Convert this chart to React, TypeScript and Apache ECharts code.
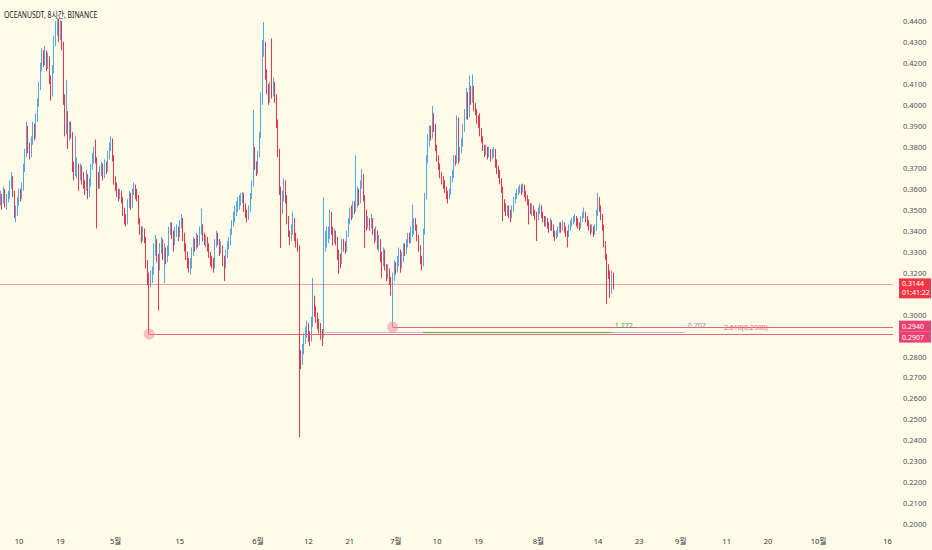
import React, { useEffect, useRef } from "react";
import * as echarts from "echarts";

// ---- time axis: days counted from Apr 10 (00:00); 8-hour candles ----
const FIRST_CANDLE_DAY = -4; // Apr 6 00:00
const CANDLES_PER_DAY = 3;
const FIRST_OPEN = 3550; // price in 1e-4 units

// candles as [close, high, low] in 1e-4 USDT (open = previous close)
const APR = [
  [3560,3590,3520],[3540,3575,3500],[3585,3610,3530],[3530,3600,3510],[3555,3575,3500],
  [3560,3590,3535],[3610,3640,3550],[3650,3680,3600],[3580,3660,3560],[3480,3590,3460],
  [3490,3520,3440],[3540,3560,3470],[3575,3600,3520],[3560,3600,3540],[3600,3630,3550],
  [3700,3720,3590],[3760,3790,3680],[3880,3920,3750],[3790,3900,3770],[3770,3820,3740],
  [3825,3850,3750],[3890,3920,3810],[3850,3910,3830],[3930,3960,3840],[4000,4030,3920],
  [4080,4110,3990],[4180,4200,4070],[4230,4270,4160],[4210,4260,4180],[4245,4280,4190],
  [4190,4260,4160],[4220,4250,4170],[4120,4230,4100],[4050,4140,4020],[4160,4190,4040],
  [4300,4330,4150],[4360,4400,4280],[4400,4412,4330],[4330,4410,4300],[4380,4405,4310],
  [4290,4400,4260],[4030,4300,4000],[3880,4050,3850],[3950,4120,3860],[3850,3970,3790],
  [3890,3920,3830],[3860,3920,3840],[3700,3870,3680],[3670,3730,3640],[3690,3850,3660],
  [3700,3750,3650],[3660,3720,3590],[3690,3720,3640],[3650,3710,3620],[3620,3680,3600],
  [3600,3640,3570],[3660,3690,3590],[3580,3670,3550],[3620,3650,3560],[3700,3720,3610],
  [3730,3770,3690],[3770,3800,3720],[3740,3835,3720],[3640,3750,3410],[3620,3680,3600],
  [3680,3710,3600],[3700,3730,3660],[3660,3720,3640],[3710,3740,3650],[3690,3730,3670],
  [3750,3780,3680],[3800,3820,3740],[3830,3850,3780],[3750,3840,3730],[3640,3760,3620],
];
const MAY = [
  [3610,3660,3590],[3580,3630,3560],[3560,3600,3540],[3575,3600,3550],[3550,3590,3530],
  [3490,3560,3470],[3470,3510,3430],[3440,3480,3420],[3530,3550,3430],[3560,3590,3510],
  [3520,3580,3500],[3580,3600,3510],[3600,3630,3570],[3570,3620,3550],[3560,3600,3540],
  [3450,3570,3430],[3400,3460,3380],[3370,3420,3340],[3390,3420,3350],[3360,3410,3340],
  [3250,3370,3220],[3160,3260,3140],[3150,3200,2907],[3170,3210,3130],[3200,3230,3150],
  [3300,3340,3190],[3350,3380,3280],[3280,3360,3250],[3230,3290,3020],[3310,3340,3210],
  [3350,3370,3290],[3290,3360,3260],[3310,3340,3150],[3270,3320,3240],[3300,3330,3250],
  [3400,3420,3280],[3420,3440,3380],[3380,3440,3360],[3350,3400,3300],[3390,3420,3330],
  [3400,3430,3370],[3380,3420,3350],[3430,3450,3370],[3450,3480,3410],[3380,3460,3350],
  [3320,3390,3300],[3290,3340,3260],[3250,3300,3220],[3230,3270,3200],[3240,3270,3190],
  [3300,3320,3220],[3340,3370,3280],[3320,3360,3300],[3360,3390,3310],[3340,3380,3320],
  [3390,3420,3330],[3420,3505,3380],[3370,3430,3350],[3350,3390,3330],[3360,3380,3320],
  [3320,3370,3300],[3290,3340,3270],[3260,3300,3230],[3250,3280,3220],[3230,3270,3200],
  [3340,3360,3220],[3370,3400,3320],[3350,3390,3330],[3300,3360,3280],[3320,3350,3290],
  [3260,3330,3230],[3240,3280,3160],[3280,3310,3220],[3320,3350,3270],[3340,3370,3310],
  [3390,3410,3330],[3430,3450,3380],[3460,3490,3420],[3490,3520,3440],[3510,3540,3470],
  [3520,3560,3490],[3540,3570,3500],[3550,3580,3520],[3570,3585,3530],[3510,3580,3490],
  [3480,3530,3460],[3460,3500,3440],[3500,3520,3450],[3560,3580,3490],[3620,3640,3550],
  [3780,3977,3610],[3710,3800,3690],[3680,3730,3660],
];
const JUN = [
  [3760,3780,3670],[3850,3870,3750],[4010,4060,3840],[4270,4310,4000],[4290,4395,4230],
  [4150,4300,4120],[4080,4170,4050],[4030,4100,4000],[4080,4110,4010],[4050,4317,4030],
  [4100,4130,4040],[4040,4110,4010],[3920,4050,3890],[3780,3930,3750],[3600,3790,3570],
  [3500,3610,3317],[3560,3590,3480],[3620,3650,3540],[3560,3640,3530],[3460,3570,3430],
  [3390,3470,3370],[3370,3400,3330],[3400,3430,3350],[3450,3490,3380],[3370,3460,3350],
  [3350,3390,3320],[3320,3360,3300],[2790,3330,2415],[2780,2830,2740],[2830,2860,2760],
  [2880,2910,2810],[2910,2940,2860],[2940,2970,2890],[2900,2960,2870],[2880,2920,2850],
  [2960,2990,2870],[3050,3175,2940],[3020,3090,2990],[2990,3040,2960],[2960,3010,2930],
  [2950,2980,2910],[2910,2960,2880],[2900,2930,2850],[3320,3560,2890],[3350,3400,3300],
  [3360,3420,3320],[3380,3420,3340],[3480,3500,3360],[3400,3490,3380],[3350,3420,3330],
  [3380,3410,3340],[3360,3400,3330],[3290,3370,3260],[3260,3310,3194],[3250,3290,3220],
  [3340,3360,3240],[3320,3360,3300],[3310,3350,3290],[3380,3400,3300],[3440,3460,3370],
  [3490,3510,3430],[3470,3520,3450],[3520,3540,3460],[3500,3540,3480],[3530,3760,3490],
  [3580,3610,3510],[3540,3600,3520],[3620,3640,3530],[3660,3695,3600],[3560,3670,3540],
  [3490,3570,3317],[3430,3500,3400],[3440,3470,3410],[3420,3460,3400],[3450,3480,3410],
  [3400,3460,3380],[3360,3410,3340],[3390,3420,3350],[3330,3400,3310],[3350,3380,3300],
  [3280,3360,3250],[3250,3300,3175],[3300,3320,3230],[3230,3310,3210],[3190,3240,3160],
  [3210,3240,3170],[3170,3220,3140],[3130,3180,3090],[3180,3200,2940],[3230,3260,3160],
];
const JUL = [
  [3210,3250,3190],[3250,3280,3200],[3300,3320,3230],[3240,3310,3200],[3270,3300,3220],
  [3320,3340,3250],[3300,3340,3280],[3340,3360,3290],[3370,3390,3320],[3360,3390,3340],
  [3390,3420,3340],[3400,3524,3370],[3440,3460,3380],[3420,3460,3400],[3370,3430,3350],
  [3320,3380,3300],[3260,3330,3240],[3240,3280,3210],[3390,3410,3230],[3560,3580,3380],
  [3740,3760,3550],[3820,3860,3720],[3880,3902,3800],[3860,3900,3830],[3950,3995,3840],
  [3900,3960,3870],[3800,3910,3780],[3750,3810,3730],[3710,3760,3690],[3670,3720,3650],
  [3640,3680,3620],[3620,3660,3600],[3600,3640,3580],[3570,3610,3550],[3560,3590,3530],
  [3580,3600,3550],[3640,3660,3570],[3660,3690,3630],[3740,3760,3650],[3730,3760,3710],
  [3930,3950,3720],[3740,3940,3720],[3780,3800,3730],[3810,3840,3770],[3890,3910,3800],
  [3950,3980,3870],[4050,4080,3930],[3950,4060,3930],[4070,4140,3940],[4020,4090,4000],
  [4080,4145,4010],[3990,4090,3970],[3970,4010,3950],[3930,3980,3910],[3910,3950,3890],
  [3870,3960,3850],[3840,3890,3820],[3800,3850,3780],[3770,3810,3750],[3790,3810,3760],
  [3760,3800,3740],[3780,3800,3750],[3750,3790,3730],[3770,3790,3740],[3780,3800,3750],
  [3720,3790,3700],[3690,3740,3670],[3670,3710,3650],[3640,3690,3620],[3600,3650,3580],
  [3530,3610,3444],[3510,3550,3490],[3490,3530,3470],[3500,3520,3470],[3480,3520,3460],
  [3470,3500,3440],[3500,3520,3460],[3540,3560,3490],[3560,3580,3530],[3580,3600,3550],
  [3590,3610,3570],[3600,3620,3580],[3590,3620,3570],[3610,3625,3580],[3580,3620,3560],
  [3560,3590,3540],[3540,3570,3520],[3520,3550,3430],[3500,3530,3480],[3510,3530,3470],
  [3490,3520,3470],[3470,3500,3450],[3460,3490,3350],
];
const AUG = [
  [3490,3510,3450],[3510,3530,3480],[3480,3520,3460],[3460,3490,3440],[3440,3470,3420],
  [3450,3470,3420],[3430,3460,3410],[3410,3440,3390],[3440,3460,3400],[3420,3450,3400],
  [3390,3430,3370],[3370,3400,3350],[3380,3400,3360],[3400,3420,3370],[3420,3440,3390],
  [3410,3440,3390],[3430,3450,3400],[3410,3440,3390],[3390,3420,3370],[3380,3400,3320],
  [3410,3430,3370],[3430,3450,3400],[3440,3460,3420],[3450,3470,3430],[3460,3480,3440],
  [3440,3470,3420],[3430,3460,3410],[3420,3440,3400],[3450,3470,3410],[3470,3490,3440],
  [3480,3510,3460],[3460,3490,3440],[3440,3470,3420],[3420,3450,3400],[3400,3430,3380],
  [3410,3430,3390],[3400,3420,3370],[3410,3430,3380],[3480,3500,3400],[3550,3580,3470],
  [3510,3560,3490],[3470,3520,3450],[3420,3480,3400],[3340,3430,3320],[3280,3350,3260],
  [3220,3290,3050],[3200,3240,3170],[3170,3210,3080],[3190,3210,3100],[3144,3200,3120],
];

// x-axis tick labels (day offset from Apr 10)
const TICK_DAYS = [0, 9, 21, 35, 52, 63, 72, 82, 91, 100, 113, 126, 135, 144, 154, 163, 174, 189];
const TICK_LABELS = ["10", "19", "5월", "15", "6월", "12", "21", "7월", "10", "19", "8월", "14", "23", "9월", "11", "20", "10월", "16"];

// annotation levels (price, day offsets)
const LAST_PRICE = 0.3144;
const COUNTDOWN = "01:41:22";
const LOW_A = { day: 28.33, price: 0.2907 };
const LOW_B = { day: 81.33, price: 0.294 };
const FIB_0707 = { from: 66.6, to: 144.9, price: 0.2914 };
const FIB_1272 = { from: 87.9, to: 129.1, price: 0.2914 };
const FIB_LABELS = [
  { text: "1.272", day: 131.6, price: 0.2947, color: "#43a047" },
  { text: "0.707", day: 147.5, price: 0.2949, color: "#9a86ad" },
  { text: "2.618(0.2908)", day: 158.2, price: 0.2939, color: "#e5677f" },
];

const X_MIN = -4.135;
const X_MAX = 190.2;
const TITLE = "OCEANUSDT, 8시간, BINANCE";

const BG = "#fefbe8";
const UP = "#58a6e6";
const DOWN = "#e6384c";
const FONT = "'Noto Sans', 'Noto Sans CJK KR', sans-serif";

function buildCandles() {
  const rows = [...APR, ...MAY, ...JUN, ...JUL, ...AUG];
  let prev = FIRST_OPEN;
  return rows.map((r, k) => {
    const open = prev;
    prev = r[0];
    return [FIRST_CANDLE_DAY + k / CANDLES_PER_DAY, open / 1e4, r[0] / 1e4, r[2] / 1e4, r[1] / 1e4];
  });
}

function priceBox(price: number, text: string, color: string, dy: number) {
  return {
    coord: [X_MAX, price],
    symbol: "circle",
    symbolSize: 0,
    itemStyle: { color: "transparent" },
    label: {
      show: true,
      position: "right",
      distance: 6,
      offset: [0, dy],
      formatter: text,
      backgroundColor: color,
      color: "#ffffff",
      fontSize: 7,
      lineHeight: 9,
      fontFamily: FONT,
      padding: [1, 3, 1, 3],
      width: 26,
      align: "left",
    },
  };
}

export default function App() {
  const ref = useRef<HTMLDivElement>(null);
  useEffect(() => {
    const chart = echarts.init(ref.current!, null, { renderer: "svg" });
    const lineColor = "#e8637c";
    chart.setOption({
      animation: false,
      backgroundColor: BG,
      graphic: [
        {
          type: "text",
          x: 4,
          y: 10,
          scaleX: 0.76,
          silent: true,
          style: {
            text: TITLE,
            fontSize: 9,
            fill: "#131722",
            fontFamily: FONT,
            textVerticalAlign: "top",
          },
        },
      ],
      grid: { left: 0, right: 39, top: -4.13, bottom: 4.75, containLabel: false },
      xAxis: {
        type: "value",
        min: X_MIN,
        max: X_MAX,
        axisLine: { show: false },
        axisTick: { show: false },
        splitLine: { show: false },
        axisLabel: {
          customValues: TICK_DAYS,
          inside: true,
          margin: 0.5,
          fontSize: 7.5,
          color: "#333333",
          fontFamily: FONT,
          formatter: (v: number) => {
            const i = TICK_DAYS.indexOf(Math.round(v));
            return i >= 0 ? TICK_LABELS[i] : "";
          },
        },
      },
      yAxis: {
        type: "value",
        position: "right",
        min: 0.19,
        max: 0.45,
        interval: 0.01,
        axisLine: { show: false },
        axisTick: { show: false },
        splitLine: { show: false },
        axisLabel: {
          margin: 10,
          fontSize: 7.5,
          color: "#50535e",
          fontFamily: FONT,
          formatter: (v: number) => {
            const c = Math.round(v * 100);
            if (c === 19 || c === 45 || c === 31 || c === 29) return "";
            return (c / 100).toFixed(4);
          },
        },
      },
      series: [
        {
          type: "candlestick",
          data: buildCandles(),
          encode: { x: 0, y: [1, 2, 3, 4] },
          barWidth: 1,
          itemStyle: {
            color: UP,
            color0: DOWN,
            borderColor: UP,
            borderColor0: DOWN,
            borderWidth: 1,
          },
          markLine: {
            silent: true,
            symbol: "none",
            label: { show: false },
            data: [
              [
                { coord: [X_MIN, LAST_PRICE], lineStyle: { color: "rgba(242,54,69,0.45)", width: 1, type: "solid" } },
                { coord: [X_MAX, LAST_PRICE] },
              ],
              [
                { coord: [FIB_0707.from, FIB_0707.price], lineStyle: { color: "#c4b3d2", width: 1, type: "solid" } },
                { coord: [FIB_0707.to, FIB_0707.price] },
              ],
              [
                { coord: [LOW_A.day, LOW_A.price], lineStyle: { color: lineColor, width: 1, type: "solid" } },
                { coord: [X_MAX, LOW_A.price] },
              ],
              [
                { coord: [LOW_B.day, LOW_B.price], lineStyle: { color: lineColor, width: 1, type: "solid" } },
                { coord: [X_MAX, LOW_B.price] },
              ],
              [
                { coord: [FIB_1272.from, FIB_1272.price], lineStyle: { color: "#4caf50", width: 1, type: "solid" } },
                { coord: [FIB_1272.to, FIB_1272.price] },
              ],
            ],
          },
          markPoint: {
            silent: true,
            data: [
              {
                coord: [LOW_A.day, LOW_A.price],
                symbol: "circle",
                symbolSize: 11,
                itemStyle: { color: "rgba(240,120,145,0.45)" },
                label: { show: false },
              },
              {
                coord: [LOW_B.day, LOW_B.price],
                symbol: "circle",
                symbolSize: 11,
                itemStyle: { color: "rgba(240,120,145,0.45)" },
                label: { show: false },
              },
              ...FIB_LABELS.map((f) => ({
                coord: [f.day, f.price],
                symbol: "circle",
                symbolSize: 0,
                itemStyle: { color: "transparent" },
                label: {
                  show: true,
                  position: "inside",
                  formatter: f.text,
                  color: f.color,
                  fontSize: 7,
                  fontFamily: FONT,
                },
              })),
              priceBox(LAST_PRICE, LAST_PRICE.toFixed(4) + "\n" + COUNTDOWN, "#f23645", 4),
              priceBox(LOW_B.price, LOW_B.price.toFixed(4), "#ec3f73", -1),
              priceBox(LOW_A.price, LOW_A.price.toFixed(4), "#ec3f73", 3),
            ],
          },
        },
      ],
    });
    return () => chart.dispose();
  }, []);
  return (
    <div
      ref={ref}
      style={{ position: "fixed", left: 0, top: 0, width: 932, height: 550, background: BG }}
    />
  );
}
